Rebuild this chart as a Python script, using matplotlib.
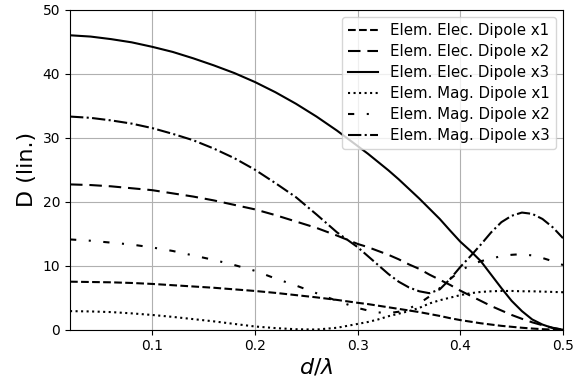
import matplotlib
matplotlib.use("Agg")
import matplotlib.pyplot as plt

# d/lambda sample points
d_lambda = [0.02, 0.04, 0.06, 0.08, 0.10, 0.12, 0.14, 0.16, 0.18, 0.20,
            0.22, 0.24, 0.26, 0.28, 0.30, 0.31, 0.32, 0.33, 0.34, 0.35,
            0.36, 0.37, 0.38, 0.39, 0.40, 0.41, 0.42, 0.43, 0.44, 0.45,
            0.46, 0.47, 0.48, 0.49, 0.50]

elec_x1 = [7.5, 7.45, 7.4, 7.3, 7.15, 6.95, 6.75, 6.55, 6.3, 6.05,
           5.75, 5.4, 5.05, 4.65, 4.2, 4.0, 3.75, 3.5, 3.25, 3.0,
           2.75, 2.45, 2.15, 1.8, 1.5, 1.25, 1.0, 0.8, 0.6, 0.45,
           0.3, 0.18, 0.08, 0.02, 0.0]

elec_x2 = [22.7, 22.6, 22.4, 22.1, 21.8, 21.3, 20.8, 20.2, 19.5, 18.8,
           17.9, 16.9, 15.9, 14.7, 13.4, 12.9, 12.3, 11.7, 11.0, 10.2,
           9.5, 8.6, 7.8, 7.0, 6.1, 5.3, 4.5, 3.7, 3.0, 2.3,
           1.7, 1.15, 0.7, 0.3, 0.0]

elec_x3 = [46.0, 45.8, 45.4, 44.9, 44.2, 43.4, 42.4, 41.3, 40.1, 38.7,
           37.1, 35.3, 33.3, 31.1, 28.7, 27.5, 26.2, 24.9, 23.5, 22.0,
           20.5, 18.9, 17.3, 15.5, 13.75, 12.3, 10.7, 8.6, 6.5, 4.5,
           2.9, 1.6, 0.8, 0.25, 0.0]

mag_x1 = [2.9, 2.85, 2.75, 2.55, 2.3, 2.0, 1.65, 1.3, 0.9, 0.5,
          0.25, 0.07, 0.02, 0.3, 0.9, 1.2, 1.6, 2.1, 2.5, 2.9,
          3.4, 4.1, 4.6, 5.0, 5.4, 5.7, 5.9, 6.0, 6.05, 6.05,
          6.0, 6.0, 5.95, 5.9, 5.85]

mag_x2 = [14.1, 13.9, 13.6, 13.3, 12.85, 12.3, 11.6, 10.9, 10.1, 9.2,
          8.0, 6.9, 5.7, 4.5, 3.4, 3.0, 2.7, 2.6, 2.8, 3.3,
          4.1, 5.2, 6.5, 7.9, 9.2, 10.1, 10.7, 11.1, 11.5, 11.7,
          11.8, 11.6, 11.2, 10.7, 10.1]

mag_x3 = [33.3, 33.1, 32.7, 32.2, 31.5, 30.6, 29.6, 28.3, 26.8, 25.0,
          22.9, 20.7, 18.0, 15.2, 12.9, 11.5, 10.1, 8.7, 7.5, 6.6,
          6.0, 5.7, 6.3, 7.9, 9.8, 11.5, 13.3, 15.2, 16.8, 17.8,
          18.3, 18.1, 17.3, 16.0, 14.3]

labels = ["Elem. Elec. Dipole x1", "Elem. Elec. Dipole x2", "Elem. Elec. Dipole x3",
          "Elem. Mag. Dipole x1", "Elem. Mag. Dipole x2", "Elem. Mag. Dipole x3"]
series = [elec_x1, elec_x2, elec_x3, mag_x1, mag_x2, mag_x3]
styles = ["--", (0, (6, 3.3)), "-", ":", (0, (3, 6, 1, 6)), "-."]

fig = plt.figure(figsize=(5.85, 3.86), dpi=100)
ax = fig.add_axes([0.1197, 0.1459, 0.8427, 0.829])

for y, lab, ls in zip(series, labels, styles):
    ax.plot(d_lambda, y, color="black", linestyle=ls, linewidth=1.5, label=lab)

ax.set_xlim(0.02, 0.5)
ax.set_ylim(0, 50)
ax.set_xticks([0.1, 0.2, 0.3, 0.4, 0.5])
ax.set_yticks([0, 10, 20, 30, 40, 50])
ax.tick_params(labelsize=10)
ax.grid(True, color="#b0b0b0", linewidth=0.8)
ax.set_xlabel(r"$d/\lambda$", fontsize=16, labelpad=2)
ax.set_ylabel("D (lin.)", fontsize=16, labelpad=4)
ax.legend(loc="upper right", fontsize=10.8, handlelength=2.0, labelspacing=0.4)

fig.savefig("out.png", dpi=100)
